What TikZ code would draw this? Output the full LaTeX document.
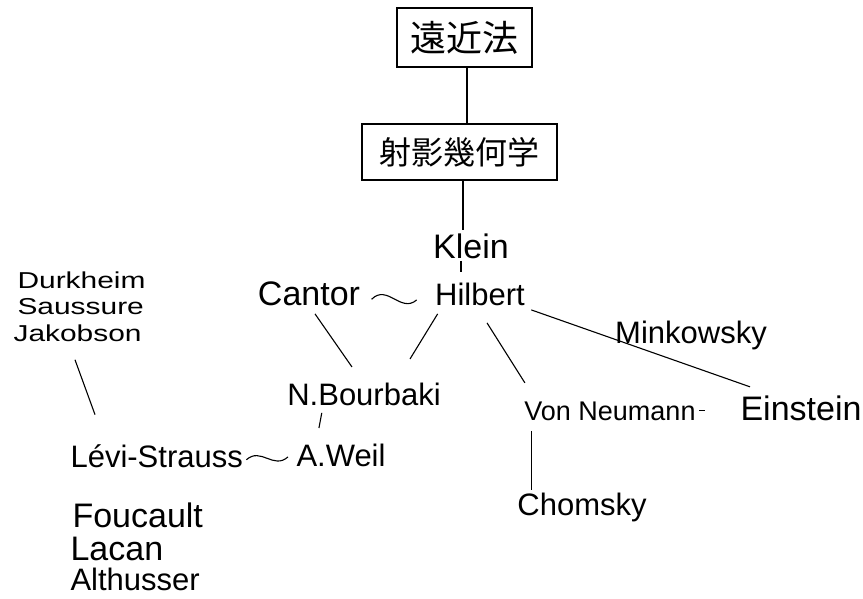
\documentclass[tikz,border=0pt]{standalone}
\usepackage{fontspec}
\setmainfont{Liberation Sans}
\newfontfamily\jpfont{Noto Sans CJK JP}
\newfontfamily\widefont[FakeStretch=1.3]{Liberation Sans}
\usetikzlibrary{calc}
\begin{document}
\begin{tikzpicture}[x=1pt,y=-1pt,line width=1.1pt,
  person/.style={inner sep=0pt,font=\fontsize{31}{36}\selectfont},
  personbig/.style={person,font=\fontsize{34}{40}\selectfont},
  personsmall/.style={person,font=\fontsize{27}{32}\selectfont},
  personwide/.style={person,font=\widefont\fontsize{23}{26}\selectfont},
  jbox/.style={draw,line width=1.3pt,inner sep=0pt,font=\jpfont\fontsize{#1}{#1}\selectfont},
  link/.style={line width=1.1pt}]
\useasboundingbox (0,0) rectangle (863,598);
% boxes
\node[jbox=36,minimum width=135pt,minimum height=59pt] (perspective) at (464.5,37.5) {遠近法};
\node[jbox=32,minimum width=195pt,minimum height=56pt] (projective) at (459.5,152) {射影幾何学};
% mathematicians
\node[personbig,anchor=base] (klein) at (471,258) {Klein};
\node[person,anchor=base] (hilbert) at (480,305) {Hilbert};
\node[personbig,anchor=base] (cantor) at (309,305) {Cantor};
\node[person,anchor=base] (minkowsky) at (691,343) {Minkowsky};
\node[person,anchor=base] (bourbaki) at (364,405) {N.Bourbaki};
\node[person,anchor=base] (weil) at (341,466) {A.Weil};
\node[personsmall,anchor=base] (neumann) at (610,420) {Von Neumann};
\node[personbig,anchor=base] (einstein) at (801,420) {Einstein};
\node[person,anchor=base] (chomsky) at (582,515) {Chomsky};
% structuralists
\node[personwide,anchor=base west] (durkheim) at (17,288) {Durkheim};
\node[personwide,anchor=base west] (saussure) at (17,314) {Saussure};
\node[personwide,anchor=base west] (jakobson) at (13,341) {Jakobson};
\node[person,anchor=base west] (levi) at (70,467) {Lévi-Strauss};
\node[personbig,anchor=base west] (foucault) at (72,527) {Foucault};
\node[personbig,anchor=base west] (lacan) at (70,560) {Lacan};
\node[person,anchor=base west] (althusser) at (70,590) {Althusser};
% connectors
\draw[link] ([xshift=2.5pt]perspective.south) -- ([xshift=2.5pt]perspective.south |- projective.north);
\draw[link] ([xshift=3.5pt]projective.south) -- ([xshift=3.5pt,yshift=3pt]projective.south |- klein.north);
\draw[link] ([xshift=-10pt,yshift=-2pt]klein.south) -- ([xshift=-19pt,yshift=10pt]hilbert.north);
\coordinate (t1) at ([xshift=11pt,yshift=-6pt]cantor.east);
\coordinate (t2) at ([xshift=-18pt,yshift=-6pt]hilbert.west);
\draw[link] (t1) .. controls ($(t1)!0.35!(t2)+(0,-16)$) and ($(t1)!0.65!(t2)+(0,14)$) .. (t2);
\draw[link] ([xshift=6pt,yshift=-8pt]cantor.south) -- ([xshift=-12pt,yshift=15pt]bourbaki.north);
\draw[link] ([xshift=3pt,yshift=-8pt]hilbert.south west) -- ([xshift=46pt,yshift=23pt]bourbaki.north);
\draw[link] ([xshift=7pt,yshift=-17pt]hilbert.south) -- ([xshift=1pt,yshift=18pt]neumann.north west);
\draw[link] ([xshift=6pt,yshift=-16pt]hilbert.east) -- ([xshift=10pt,yshift=8pt]einstein.north west);
\draw[link] ([xshift=35pt,yshift=-7pt]bourbaki.south west) -- ([xshift=23pt,yshift=15pt]weil.north west);
\coordinate (t3) at ([xshift=3pt,yshift=-4pt]levi.east);
\coordinate (t4) at ([xshift=-8pt,yshift=-2pt]weil.west);
\draw[link] (t3) .. controls ($(t3)!0.35!(t4)+(0,-12)$) and ($(t3)!0.65!(t4)+(0,12)$) .. (t4);
\draw[link] ([xshift=62pt,yshift=-18pt]jakobson.south west) -- ([xshift=25pt,yshift=29pt]levi.north west);
\draw[link,shorten >=12pt] ([xshift=8pt,yshift=-10pt]neumann.south west) -- ([xshift=8pt,yshift=-10pt]neumann.south west |- chomsky.north);
\draw[link] ([xshift=3pt]neumann.east) -- ([xshift=9pt]neumann.east);
\end{tikzpicture}
\end{document}
